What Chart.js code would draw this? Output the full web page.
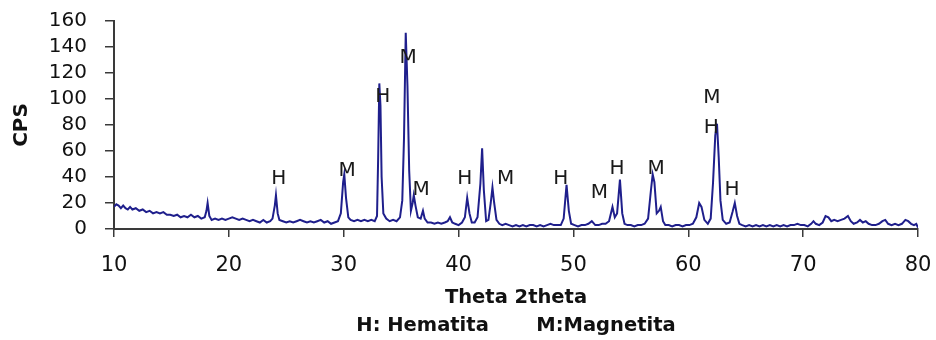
<!DOCTYPE html>
<html>
<head>
<meta charset="utf-8">
<script src="https://cdn.jsdelivr.net/npm/chart.js@4"></script>
<style>
  html, body { margin: 0; padding: 0; background: #fff; }
  #xrd { display: block; }
</style>
</head>
<body>
<canvas id="xrd" width="936" height="340"></canvas>
<script>
// 2theta positions (degrees) and counts
const twoTheta = [
  10.0, 10.2, 10.4, 10.6, 10.8, 11.0, 11.2, 11.4, 11.6, 11.9, 12.2, 12.5, 12.8, 13.1, 13.4, 13.7,
  14.0, 14.3, 14.6, 14.9, 15.2, 15.5, 15.8, 16.1, 16.4, 16.7, 17.0, 17.3, 17.6, 17.9, 18.05, 18.15,
  18.3, 18.5, 18.8, 19.1, 19.4, 19.7, 20.0, 20.3, 20.6, 20.9, 21.2, 21.5, 21.8, 22.1, 22.4, 22.7,
  23.0, 23.3, 23.6, 23.8, 24.0, 24.1, 24.25, 24.4, 24.7, 25.0, 25.3, 25.6, 25.9, 26.2, 26.5, 26.8,
  27.1, 27.4, 27.7, 28.0, 28.3, 28.6, 28.9, 29.2, 29.5, 29.75, 29.95, 30.05, 30.2, 30.4, 30.6, 30.9,
  31.2, 31.5, 31.8, 32.1, 32.4, 32.7, 32.9, 33.0, 33.1, 33.2, 33.3, 33.45, 33.7, 34.0, 34.3, 34.6,
  34.9, 35.1, 35.25, 35.4, 35.55, 35.7, 35.85, 36.0, 36.1, 36.25, 36.45, 36.7, 36.9, 37.05, 37.3, 37.6,
  37.9, 38.2, 38.5, 38.8, 39.05, 39.25, 39.45, 39.7, 40.0, 40.3, 40.55, 40.75, 40.95, 41.15, 41.4, 41.65,
  41.9, 42.05, 42.2, 42.4, 42.6, 42.8, 42.95, 43.1, 43.3, 43.55, 43.8, 44.1, 44.4, 44.7, 45.0, 45.3,
  45.6, 45.9, 46.2, 46.5, 46.8, 47.1, 47.4, 47.7, 48.0, 48.3, 48.6, 48.9, 49.15, 49.4, 49.6, 49.8,
  50.1, 50.4, 50.7, 51.0, 51.3, 51.6, 51.9, 52.2, 52.5, 52.8, 53.1, 53.4, 53.6, 53.8, 54.05, 54.25,
  54.45, 54.7, 55.0, 55.3, 55.6, 55.9, 56.2, 56.5, 56.75, 56.9, 57.05, 57.25, 57.45, 57.6, 57.8, 58.0,
  58.3, 58.6, 58.9, 59.2, 59.5, 59.8, 60.1, 60.4, 60.7, 60.95, 61.15, 61.4, 61.7, 61.95, 62.15, 62.35,
  62.5, 62.65, 62.8, 63.0, 63.3, 63.6, 63.85, 64.05, 64.25, 64.45, 64.7, 65.0, 65.3, 65.6, 65.9, 66.2,
  66.5, 66.8, 67.1, 67.4, 67.7, 68.0, 68.3, 68.6, 68.9, 69.2, 69.5, 69.8, 70.1, 70.4, 70.7, 70.9,
  71.1, 71.4, 71.7, 71.95, 72.2, 72.45, 72.7, 73.0, 73.3, 73.6, 73.9, 74.15, 74.4, 74.7, 74.95, 75.2,
  75.45, 75.7, 76.0, 76.3, 76.6, 76.9, 77.15, 77.4, 77.7, 78.0, 78.3, 78.6, 78.9, 79.15, 79.4, 79.65,
  79.85, 80.0
];
const cps = [
  17, 19, 18, 16, 18, 16, 15, 17, 15, 16, 14, 15, 13, 14, 12, 13,
  12, 13, 11, 11, 10, 11, 9, 10, 9, 11, 9, 10, 8, 9, 14, 20,
  10, 7, 8, 7, 8, 7, 8, 9, 8, 7, 8, 7, 6, 7, 6, 5,
  7, 5, 6, 8, 18, 26, 12, 7, 6, 5, 6, 5, 6, 7, 6, 5,
  6, 5, 6, 7, 5, 6, 4, 5, 6, 12, 36, 42, 24, 9, 7, 6,
  7, 6, 7, 6, 7, 6, 10, 55, 112, 95, 40, 12, 8, 6, 7, 6,
  9, 22, 70, 151, 110, 45, 14, 20, 26, 18, 9, 8, 14, 8, 5, 5,
  4, 5, 4, 5, 6, 9, 5, 4, 3, 5, 9, 24, 12, 5, 5, 9,
  35, 62, 30, 6, 7, 20, 32, 20, 7, 4, 3, 4, 3, 2, 3, 2,
  3, 2, 3, 3, 2, 3, 2, 3, 4, 3, 3, 3, 8, 34, 14, 4,
  3, 2, 3, 3, 4, 6, 3, 3, 4, 4, 6, 17, 9, 12, 38, 12,
  4, 3, 3, 2, 3, 3, 4, 8, 30, 42, 36, 12, 14, 17, 6, 3,
  3, 2, 3, 3, 2, 3, 3, 4, 9, 20, 17, 7, 4, 8, 35, 72,
  81, 55, 22, 7, 4, 5, 13, 20, 10, 4, 3, 2, 3, 2, 3, 2,
  3, 2, 3, 2, 3, 2, 3, 2, 3, 3, 4, 3, 3, 2, 4, 6,
  4, 3, 5, 10, 9, 6, 7, 6, 7, 8, 10, 6, 4, 5, 7, 5,
  6, 4, 3, 3, 4, 6, 7, 4, 3, 4, 3, 4, 7, 6, 4, 3,
  4, 1
];

// phase labels over the peaks (H = hematite, M = magnetite), anchored in data units
const peakLetters = ['H', 'M', 'H', 'M', 'M', 'H', 'M', 'H', 'M', 'H', 'M', 'M', 'H', 'H'];
const peakX = [24.35, 30.3, 33.4, 35.6, 36.75, 40.55, 44.1, 48.9, 52.25, 53.8, 57.2, 62.05, 62.0, 63.8];
const peakY = [39, 45, 102, 132, 30, 39, 39, 39, 28, 46, 46, 101, 78, 30];

const xTicks = [10, 20, 30, 40, 50, 60, 70, 80];
const yTicks = [0, 20, 40, 60, 80, 100, 120, 140, 160];
const xTitle = ['Theta 2theta', 'H: Hematita       M:Magnetita'];
const yTitle = 'CPS';

const FONT = 'DejaVu Sans';
const lineColor = '#1f1f8c';
const axisColor = '#3a3a3a';

const peakLabelPlugin = {
  id: 'peakLabels',
  afterDatasetsDraw(chart) {
    const { ctx, scales } = chart;
    ctx.save();
    ctx.font = '20px "' + FONT + '"';
    ctx.fillStyle = '#1a1a1a';
    ctx.textAlign = 'center';
    ctx.textBaseline = 'middle';
    peakLetters.forEach((t, i) => {
      ctx.fillText(t, scales.x.getPixelForValue(peakX[i]), scales.y.getPixelForValue(peakY[i]));
    });
    ctx.restore();
  }
};

new Chart(document.getElementById('xrd'), {
  type: 'line',
  data: {
    datasets: [{
      data: twoTheta.map((x, i) => ({ x: x, y: cps[i] })),
      borderColor: lineColor,
      borderWidth: 2,
      pointRadius: 0,
      tension: 0,
      fill: false
    }]
  },
  options: {
    responsive: false,
    animation: false,
    layout: { padding: { left: 0, right: 18, top: 21, bottom: 0 } },
    plugins: { legend: { display: false }, tooltip: { enabled: false } },
    scales: {
      x: {
        type: 'linear',
        min: 10,
        max: 80,
        afterBuildTicks: (s) => { s.ticks = xTicks.map(v => ({ value: v })); },
        afterFit: (s) => { s.height = 111; s.paddingLeft = 0; s.paddingRight = 0; },
        border: { color: axisColor, width: 2 },
        grid: { drawOnChartArea: false, drawTicks: true, tickLength: 8, color: axisColor, lineWidth: 1.5 },
        ticks: { color: '#111', font: { family: FONT, size: 21 }, padding: 16, maxRotation: 0, autoSkip: false },
        title: {
          display: true,
          text: xTitle,
          color: '#111',
          font: { family: FONT, size: 19.5, weight: 'bold', lineHeight: 1.45 },
          padding: { top: 0, bottom: 0 }
        }
      },
      y: {
        min: 0,
        max: 160,
        afterBuildTicks: (s) => { s.ticks = yTicks.map(v => ({ value: v })); },
        afterFit: (s) => { s.width = 114; s.paddingTop = 0; s.paddingBottom = 0; },
        border: { color: axisColor, width: 2 },
        grid: { drawOnChartArea: false, drawTicks: true, tickLength: 9, color: axisColor, lineWidth: 1.5 },
        ticks: { color: '#111', font: { family: FONT, size: 20 }, padding: 18, autoSkip: false },
        title: {
          display: true,
          text: yTitle,
          color: '#111',
          font: { family: FONT, size: 20, weight: 'bold' },
          padding: { top: 10, bottom: 0 }
        }
      }
    }
  },
  plugins: [peakLabelPlugin]
});
</script>
</body>
</html>
